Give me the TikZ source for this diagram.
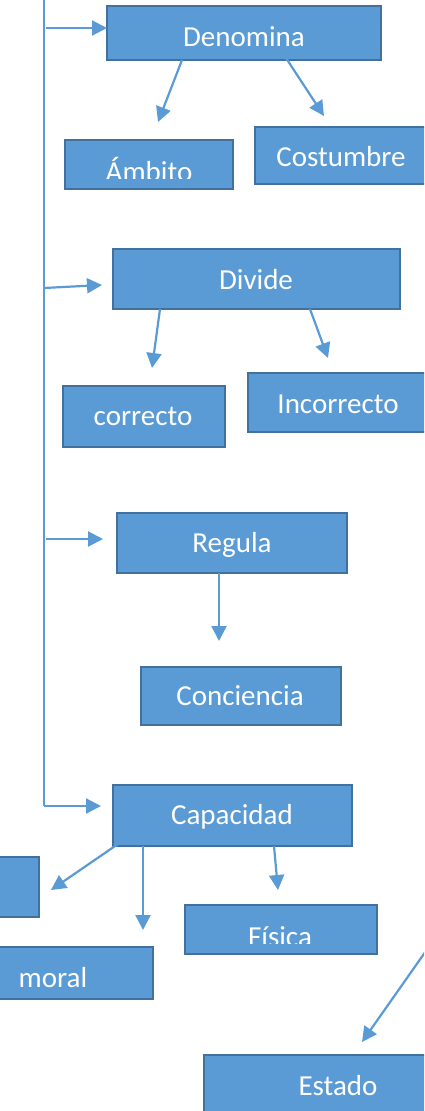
\documentclass[tikz,border=0pt]{standalone}
\usepackage{fontspec}
\setmainfont{Carlito}
\usetikzlibrary{arrows.meta,calc}
\definecolor{boxfill}{HTML}{5B9BD5}
\definecolor{boxline}{HTML}{41719C}
\definecolor{arrcol}{HTML}{5B9BD5}
\tikzset{
  box/.style={draw=boxline, fill=boxfill, line width=2.2pt, inner sep=0pt, outer sep=0pt},
  txt/.style={text=white, font=\fontsize{29}{35}\selectfont, anchor=base, inner sep=0pt},
  arr/.style={draw=arrcol, line width=2.2pt, -{Triangle[length=15pt,width=15pt]}},
  trunk/.style={draw=arrcol, line width=1.8pt}
}
\newcommand{\mybox}[3]{% name, corner1, corner2
  \path let \p1=#2, \p2=#3 in node[box, minimum width={\x2-\x1}, minimum height={\y1-\y2}, anchor=north west] (#1) at (\p1) {};}
\begin{document}
\begin{tikzpicture}[x=1pt,y=-1pt]
\useasboundingbox (0,0) rectangle (424,1111);
\clip (0,0) rectangle (424,1111);
% boxes
\mybox{den}{(107,6)}{(381,60)}
\mybox{amb}{(65,140)}{(233,189)}
\mybox{cos}{(255,127)}{(440,184)}
\mybox{div}{(113,249)}{(400,309)}
\mybox{cor}{(63,386)}{(225,447)}
\mybox{inc}{(248,373)}{(440,432)}
\mybox{reg}{(117,513)}{(347,573)}
\mybox{con}{(141,667)}{(341,725)}
\mybox{cap}{(113,785)}{(352,846)}
\mybox{lft}{(-20,857)}{(39,917)}
\mybox{fis}{(185,905)}{(377,954)}
\mybox{mor}{(-20,947)}{(153,999)}
\mybox{est}{(204,1055)}{(440,1130)}
% labels
\node[txt] (tden) at (244,46) {Denomina};
\begin{scope}
\clip (65,140) rectangle (233,178);
\node[txt] (tamb) at (149,181) {Ámbito};
\end{scope}
\node[txt] (tcos) at (341,166) {Costumbre};
\node[txt] (tdiv) at (256,289) {Divide};
\node[txt] (tcor) at (143,425) {correcto};
\node[txt] (tinc) at (338,413) {Incorrecto};
\node[txt] (treg) at (232,552) {Regula};
\node[txt] (tcon) at (240,705) {Conciencia};
\node[txt] (tcap) at (232,824) {Capacidad};
\begin{scope}
\clip (185,905) rectangle (377,943);
\node[txt] (tfis) at (280,946) {Física};
\end{scope}
\node[txt] (tmor) at (53,987) {moral};
\node[txt] (test) at (338,1095) {Estado};
% trunk
\coordinate (top) at (44,0);
\coordinate (t1) at (46,28);
\coordinate (t2) at (44,288);
\coordinate (t3) at (46,539);
\coordinate (t4) at (44,806);
\draw[trunk] (top) -- (t4);
\draw[arr] (t1) -- (den.west |- t1);
\draw[arr] (t2) -- ($(div.west)+(-11,6)$);
\draw[arr] (t3) -- ($(reg.west |- t3)+(-14,0)$);
\draw[arr] (t4) -- ($(cap.west |- t4)+(-12,0)$);
% children arrows
\coordinate (e1) at (158,122);
\coordinate (e2) at (324,116);
\coordinate (e3) at (152,368);
\coordinate (e4) at (328,358);
\coordinate (e5) at (219,641);
\coordinate (e6) at (51,890);
\coordinate (e7) at (143,930);
\coordinate (e8) at (278,890);
\coordinate (s9) at (440,931);
\coordinate (e9) at (362,1042);
\draw[arr] ($(den.south west)+(75,0)$) -- (e1);
\draw[arr] ($(den.south west)+(179,-2)$) -- (e2);
\draw[arr] ($(div.south west)+(47,0)$) -- (e3);
\draw[arr] ($(div.south west)+(197,0)$) -- (e4);
\draw[arr] ($(reg.south west)+(102,0)$) -- (e5);
\draw[arr] ($(cap.south west)+(5,-2)$) -- (e6);
\draw[arr] ($(cap.south west)+(30,0)$) -- (e7);
\draw[arr] ($(cap.south west)+(161,0)$) -- (e8);
\draw[arr] (s9) -- (e9);
\end{tikzpicture}
\end{document}
